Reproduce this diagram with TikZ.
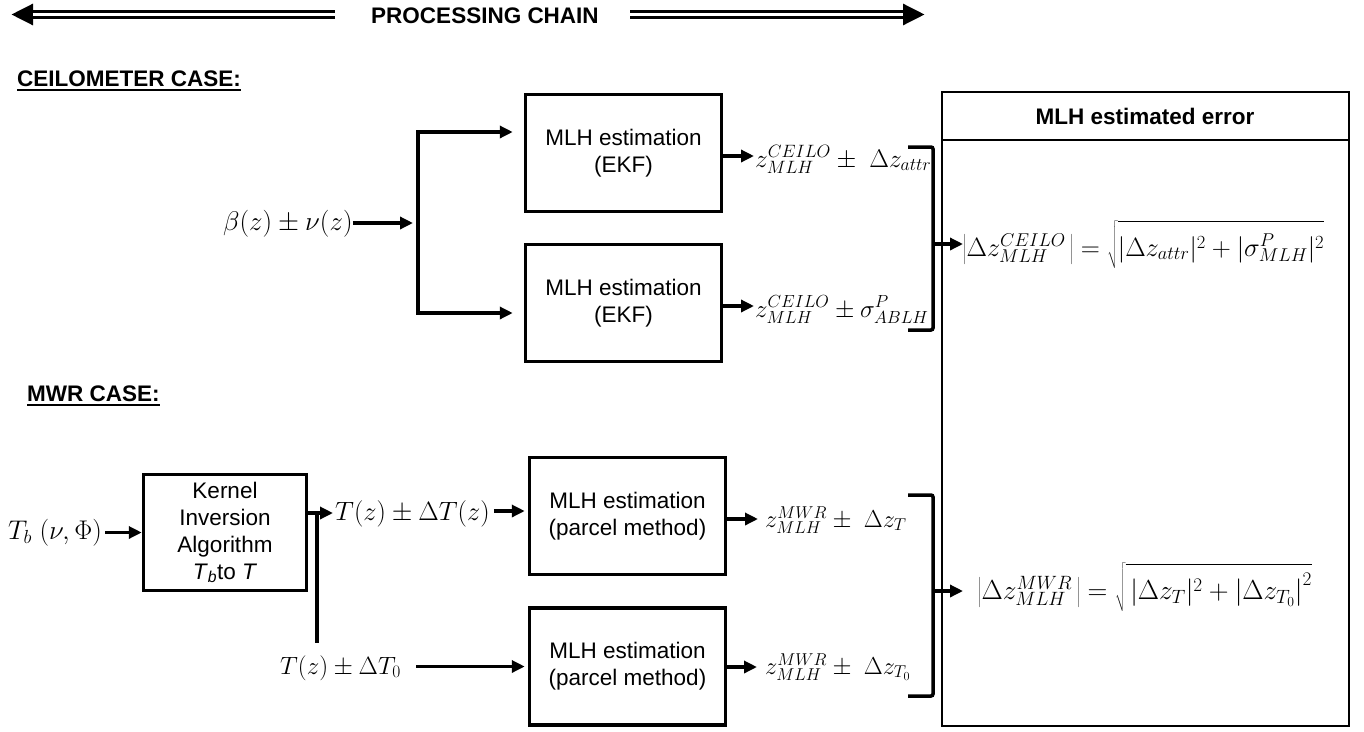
\RequirePackage{fix-cm}
\documentclass[tikz,border=0pt]{standalone}
\usepackage[no-math]{fontspec}
\setmainfont{Liberation Sans}
\usetikzlibrary{arrows.meta,calc}
\newcommand{\radstrut}{\rule[-0.45em]{0pt}{1.7em}}
\begin{document}
\begin{tikzpicture}[x=1pt,y=-1pt,
  txt/.style={font=\fontsize{22.5}{27}\selectfont, inner sep=0pt},
  btxt/.style={font=\fontsize{22.5}{27}\selectfont\bfseries, inner sep=0pt},
  mth/.style={font=\fontsize{25}{29}\selectfont, inner sep=0pt, anchor=base west},
  procbox/.style={draw, line width=3.5pt, align=center, font=\fontsize{22.5}{27}\selectfont,
     inner sep=0pt, minimum width=196pt, minimum height=117pt},
  conn/.style={line width=3.5pt},
  arr/.style={line width=3.5pt, -{Triangle[length=13pt,width=12pt]}},
  bigarrow/.style={line width=9.5pt, -{Triangle[length=22pt,width=20pt]}},
  gap/.style={white, line width=2.5pt},
]
\useasboundingbox (0,0) rectangle (1364,731);

% processing chain header
\coordinate (la1) at (335,14.5);
\coordinate (la2) at (11,14.5);
\coordinate (la3) at (33,14.5);
\coordinate (ra1) at (630,14.5);
\coordinate (ra2) at (925,14.5);
\coordinate (ra3) at (903,14.5);
\draw[bigarrow] (la1) -- (la2);
\draw[gap] (la1) -- (la3);
\draw[bigarrow] (ra1) -- (ra2);
\draw[gap] (ra1) -- (ra3);
\node[btxt] (title) at (485,15.5) {PROCESSING CHAIN};

% section titles
\node[btxt, anchor=base west] (ceil) at (17,86) {CEILOMETER CASE:};
\draw[line width=2pt] ([yshift=-3.5pt]ceil.base west) -- ([yshift=-3.5pt]ceil.base east);
\node[btxt, anchor=base west] (mwr) at (27,401) {MWR CASE:};
\draw[line width=2pt] ([yshift=-3.5pt]mwr.base west) -- ([yshift=-3.5pt]mwr.base east);

% ceilometer
\node[mth, font=\fontsize{27}{31}\selectfont] (beta) at (223,230) {$\beta(z) \pm \nu(z)$};
\node[procbox] (cb1) at (623.5,153) {MLH estimation\\(EKF)};
\node[procbox] (cb2) at (623.5,303) {MLH estimation\\(EKF)};
\coordinate (split) at (418,223);
\draw[arr, shorten >=5pt] (beta.east |- split) -- (split);
\draw[arr, shorten >=11pt] (split) |- ($(cb1.west)+(0,-21)$);
\draw[arr, shorten >=11pt] (split) |- ($(cb2.west)+(0,10)$);

\node[mth, font=\fontsize{25.5}{29}\selectfont] (co1) at (755,167) {$z^{CEILO}_{MLH} \pm\; \Delta z_{attr}$};
\node[mth] (co2) at (755,317) {$z^{CEILO}_{MLH} \pm \sigma^{P}_{ABLH}$};
\draw[arr, shorten >=1pt] ($(cb1.east)+(0,3)$) coordinate (o1) -- (o1 -| co1.west);
\draw[arr, shorten >=1pt] ($(cb2.east)+(0,3)$) coordinate (o2) -- (o2 -| co2.west);

% error box
\node[draw, line width=2pt, minimum width=407pt, minimum height=634pt, inner sep=0pt] (errbox) at (1145.5,409) {};
\draw[line width=2.5pt] ($(errbox.north west)+(0,49)$) -- ($(errbox.north east)+(0,49)$);
\node[btxt] (errtitle) at (1145,116) {MLH estimated error};

% ceilometer bracket + formula
\draw[conn, rounded corners=2pt] (908,147) -- (933,147) -- (933,330) -- (908,330);
\coordinate (bc) at (933,244);
\node[mth, font=\fontsize{26.5}{31}\selectfont] (cf) at (963,256) {$\left|\Delta z^{CEILO}_{MLH}\,\right| = \sqrt{\radstrut|\Delta z_{attr}|^2 + |\sigma^{P}_{MLH}|^2}$};
\draw[arr] (bc) -- (bc -| cf.west);

% MWR
\node[mth, font=\fontsize{27}{31}\selectfont] (tb) at (8,539) {$T_b\;(\nu,\Phi)$};
\node[procbox, minimum width=163pt, minimum height=116pt] (kb) at (225,532.5)
  {Kernel\\Inversion\\Algorithm\\\textit{T}\textsubscript{\textit{b}}to \textit{T}};
\draw[arr, shorten <=3pt] (tb.east |- kb.west) -- (kb.west);

\node[mth, font=\fontsize{26.5}{30}\selectfont] (tz) at (335,520) {$T(z) \pm \Delta T(z)$};
\draw[arr, shorten >=2pt] ($(kb.east)+(0,-19.5)$) coordinate (ko) -- (ko -| tz.west);
\coordinate (vtop) at (317,513);
\coordinate (vbot) at (317,643);
\draw[conn] (vtop) -- (vbot);

\node[procbox] (mb1) at (627.5,516) {MLH estimation\\(parcel method)};
\node[procbox] (mb2) at (627.5,666.5) {MLH estimation\\(parcel method)};
\node[mth] (t0) at (280,674) {$T(z) \pm \Delta T_0$};

\path (mb1.west) ++(0,-5) coordinate (p1);
\draw[arr, shorten <=4pt, shorten >=3pt] (tz.east |- p1) -- (p1);
\draw[arr, shorten <=15pt, shorten >=3pt] (t0.east |- mb2.west) -- (mb2.west);

\node[mth, font=\fontsize{24.5}{29}\selectfont] (mo1) at (765,527) {$z^{MWR}_{MLH} \pm\; \Delta z_{T}$};
\node[mth, font=\fontsize{24.5}{29}\selectfont] (mo2) at (765,674) {$z^{MWR}_{MLH} \pm\; \Delta z_{T_0}$};
\draw[arr, shorten >=7pt] ($(mb1.east)+(0,3)$) coordinate (q1) -- (q1 -| mo1.west);
\draw[arr, shorten >=8pt] ($(mb2.east)+(0,0.5)$) coordinate (q2) -- (q2 -| mo2.west);

\draw[conn, rounded corners=2pt] (908,495) -- (933,495) -- (933,696) -- (908,696);
\coordinate (bm) at (933,591);
\node[mth, font=\fontsize{27.5}{32}\selectfont] (mf) at (978,599) {$\left|\Delta z^{MWR}_{MLH}\,\right| = \sqrt{\radstrut\,|\Delta z_{T}|^2 + \left|\Delta z_{T_0}\right|^2}$};
\draw[arr, shorten >=15pt] (bm) -- (bm -| mf.west);

\end{tikzpicture}
\end{document}
